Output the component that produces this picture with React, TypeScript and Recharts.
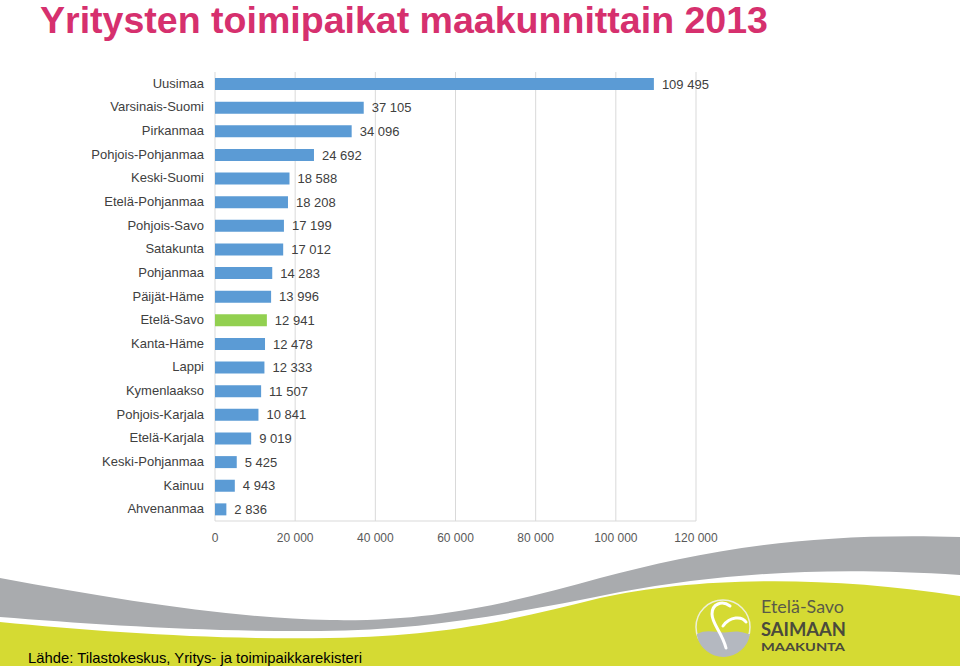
import { BarChart, Bar, XAxis, YAxis, CartesianGrid, Cell, LabelList } from 'recharts';

const regions = [
    'Uusimaa', 'Varsinais-Suomi', 'Pirkanmaa', 'Pohjois-Pohjanmaa', 'Keski-Suomi',
    'Etelä-Pohjanmaa', 'Pohjois-Savo', 'Satakunta', 'Pohjanmaa', 'Päijät-Häme',
    'Etelä-Savo', 'Kanta-Häme', 'Lappi', 'Kymenlaakso', 'Pohjois-Karjala',
    'Etelä-Karjala', 'Keski-Pohjanmaa', 'Kainuu', 'Ahvenanmaa',
];
const establishments = [
    109495, 37105, 34096, 24692, 18588, 18208, 17199, 17012, 14283, 13996,
    12941, 12478, 12333, 11507, 10841, 9019, 5425, 4943, 2836,
];
const xTicks = [0, 20000, 40000, 60000, 80000, 100000, 120000];
const highlight = 'Etelä-Savo';

const BLUE = '#5b9bd5';
const GREEN = '#92d050';
const GRID = '#d9d9d9';
const SANS = "'Liberation Sans', Arial, sans-serif";

const fmt = (v: number) => String(v).replace(/\B(?=(\d{3})+(?!\d))/g, ' ');

const data = regions.map((name, i) => ({ name, value: establishments[i] }));

function Decor() {
    return (
        <svg width={960} height={666} style={{ position: 'absolute', left: 0, top: 0 }}>
            <text
                x={40}
                y={33}
                fontFamily={SANS}
                fontWeight="bold"
                fontSize={36}
                fill="#d6306e"
                textLength={728}
                lengthAdjust="spacingAndGlyphs"
            >
                Yritysten toimipaikat maakunnittain 2013
            </text>
            <path
                d="M0,578 C120,600 230,618 330,620 C440,622 520,600 600,578 C700,552 800,532 960,537 L960,575 C820,566 720,574 620,592 C520,612 430,630 320,631 C200,632 90,624 0,617 Z"
                fill="#a9abae"
            />
            <path
                d="M0,622 C100,632 220,640 330,638 C450,636 520,618 600,598 C690,578 820,574 960,596 L960,666 L0,666 Z"
                fill="#d5da33"
            />
            <circle cx={723} cy={627} r={27} fill="none" stroke="#eef0d8" strokeWidth={1.5} />
            <path d="M697,634 C708,628 718,634 730,632 C740,630 746,634 750,634 A27,27 0 0 1 697,636 Z" fill="#b4b8c0" />
            <path
                d="M726,648 C722,632 712,624 712,614 C712,604 722,600 730,606 M723,626 C730,616 742,616 746,622"
                fill="none"
                stroke="#ffffff"
                strokeWidth={3}
                strokeLinecap="round"
            />
            <text x={761} y={613} fontFamily="Lato, 'Open Sans', sans-serif" fontSize={17} fill="#5a5a48" textLength={83} lengthAdjust="spacingAndGlyphs">Etelä-Savo</text>
            <text x={761} y={636} fontFamily="Lato, 'Open Sans', sans-serif" fontWeight="bold" fontSize={19} fill="#4a4a3c" textLength={85} lengthAdjust="spacingAndGlyphs">SAIMAAN</text>
            <text x={761} y={651} fontFamily="Lato, 'Open Sans', sans-serif" fontWeight="bold" fontSize={12} fill="#4a4a3c" textLength={84} lengthAdjust="spacingAndGlyphs">MAAKUNTA</text>
            <text
                x={28}
                y={663}
                fontFamily={SANS}
                fontSize={15}
                fill="#000"
                textLength={334}
                lengthAdjust="spacingAndGlyphs"
            >
                Lähde: Tilastokeskus, Yritys- ja toimipaikkarekisteri
            </text>
        </svg>
    );
}

function RegionTick({ y, payload }: any) {
    return (
        <text x={204} y={y} dy={4} textAnchor="end" fontSize={13} fill="#404040" fontFamily={SANS}>
            {payload.value}
        </text>
    );
}

export default function App() {
    return (
        <div style={{ position: 'absolute', left: 0, top: 0, width: 960, height: 666, background: '#fff', overflow: 'hidden' }}>
            <Decor />
            <div style={{ position: 'absolute', left: 0, top: 0 }}>
                <BarChart
                    width={960}
                    height={560}
                    data={data}
                    layout="vertical"
                    margin={{ top: 72, right: 264, bottom: 9, left: 0 }}
                >
                    <CartesianGrid horizontal={false} stroke={GRID} />
                    <XAxis
                        type="number"
                        domain={[0, 120000]}
                        ticks={xTicks}
                        tickFormatter={fmt}
                        axisLine={{ stroke: GRID }}
                        tickLine={false}
                        tick={{ fontSize: 12, fill: '#595959', fontFamily: SANS }}
                        tickMargin={6}
                        height={30}
                    />
                    <XAxis
                        xAxisId="top"
                        orientation="top"
                        type="number"
                        domain={[0, 120000]}
                        tick={false}
                        tickLine={false}
                        axisLine={{ stroke: GRID }}
                        height={0}
                    />
                    <YAxis
                        type="category"
                        dataKey="name"
                        width={215}
                        axisLine={false}
                        tickLine={false}
                        interval={0}
                        tick={<RegionTick />}
                    />
                    <Bar dataKey="value" barSize={12} isAnimationActive={false}>
                        {data.map((d) => (
                            <Cell key={d.name} fill={d.name === highlight ? GREEN : BLUE} />
                        ))}
                        <LabelList
                            dataKey="value"
                            position="right"
                            offset={8}
                            formatter={(v: any) => fmt(Number(v))}
                            style={{ fontSize: 13, fill: '#404040', fontFamily: SANS }}
                        />
                    </Bar>
                </BarChart>
            </div>
        </div>
    );
}
